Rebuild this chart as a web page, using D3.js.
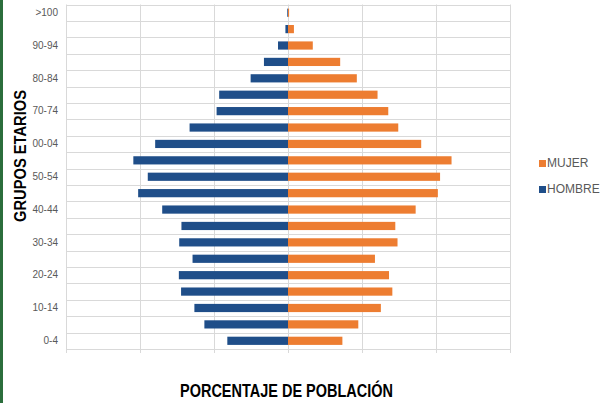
<!DOCTYPE html>
<html>
<head>
<meta charset="utf-8">
<script src="https://cdn.jsdelivr.net/npm/d3@7"></script>
<style>
  body { margin: 0; background: #fff; }
  svg { display: block; font-family: "Liberation Sans", Arial, sans-serif; }
</style>
</head>
<body>
<svg id="chart"></svg>
<script>
// age groups, bottom to top
const groups = ["0-4","5-9","10-14","15-19","20-24","25-29","30-34","35-39","40-44","45-49",
                "50-54","55-59","60-64","65-69","70-74","75-79","80-84","85-89","90-94","95-99",">100"];
// percentages
const hombre = [1.64,2.26,2.53,2.89,2.95,2.58,2.94,2.88,3.40,4.05,
                3.79,4.18,3.59,2.66,1.93,1.86,1.01,0.65,0.27,0.07,0.02];
const mujer  = [1.47,1.90,2.51,2.82,2.73,2.35,2.96,2.90,3.45,4.05,
                4.11,4.42,3.60,2.98,2.71,2.42,1.86,1.41,0.67,0.16,0.03];
// labelled groups and the text shown for them
const tickGroups = ["0-4","10-14","20-24","30-34","40-44","50-54","60-64","70-74","80-84","90-94",">100"];
const tickLabels = ["0-4","10-14","20-24","30-34","40-44","50-54","00-04","70-74","80-84","90-94",">100"];
const xTicks = [-6,-4,-2,0,2,4,6];
const legendItems = ["MUJER","HOMBRE"];

const width = 601, height = 403;
const colors = {HOMBRE: "#1f4e89", MUJER: "#ed7d31"};

const svg = d3.select("#chart").attr("width", width).attr("height", height);

// green strip at left edge
svg.append("rect").attr("x", 0).attr("y", 0).attr("width", 3).attr("height", height).attr("fill", "#2b6e3c");

const x = d3.scaleLinear().domain([-6, 6]).range([66, 510]);
const y = d3.scaleBand()
            .domain(groups.slice().reverse())
            .range([4.5, 349])
            .paddingInner(0.5)
            .paddingOuter(0.25);

const plotTop = y.range()[0], plotBottom = y.range()[1];

// horizontal gridlines at group boundaries
const grid = svg.append("g").attr("stroke", "#d9d9d9").attr("stroke-width", 1);
d3.range(groups.length + 1).forEach(i => {
    const yy = Math.round(plotTop + i * y.step()) + 0.5;
    grid.append("line").attr("x1", x(-6)).attr("x2", x(6)).attr("y1", yy).attr("y2", yy);
});
// vertical gridlines with small ticks below
xTicks.forEach(t => {
    const xx = Math.round(x(t)) + 0.5;
    grid.append("line").attr("x1", xx).attr("x2", xx).attr("y1", plotTop).attr("y2", plotBottom + 4);
});

// bars
const rows = groups.map((g, i) => ({group: g, hombre: hombre[i], mujer: mujer[i]}));

svg.append("g").selectAll("rect")
    .data(rows)
    .enter()
    .append("rect")
    .attr("x", d => x(-d.hombre))
    .attr("y", d => y(d.group))
    .attr("width", d => x(0) - x(-d.hombre))
    .attr("height", y.bandwidth())
    .attr("fill", colors.HOMBRE);

svg.append("g").selectAll("rect")
    .data(rows)
    .enter()
    .append("rect")
    .attr("x", x(0))
    .attr("y", d => y(d.group))
    .attr("width", d => x(d.mujer) - x(0))
    .attr("height", y.bandwidth())
    .attr("fill", colors.MUJER);

// category labels
const yAxis = d3.axisLeft(y)
                .tickValues(tickGroups)
                .tickFormat(g => tickLabels[tickGroups.indexOf(g)])
                .tickSize(0)
                .tickPadding(8);

svg.append("g")
    .attr("transform", `translate(${x(-6)},0)`)
    .call(yAxis)
    .call(g => g.select(".domain").remove())
    .selectAll("text")
    .attr("font-size", "10px")
    .attr("font-family", "'Liberation Sans', Arial, sans-serif")
    .attr("fill", "#595959");

// axis titles
svg.append("text")
    .attr("transform", "translate(26,222) rotate(-90)")
    .attr("font-size", "17px")
    .attr("font-weight", "bold")
    .attr("textLength", 132)
    .attr("lengthAdjust", "spacingAndGlyphs")
    .attr("fill", "#000")
    .text("GRUPOS ETARIOS");

svg.append("text")
    .attr("x", 180)
    .attr("y", 397)
    .attr("font-size", "18px")
    .attr("font-weight", "bold")
    .attr("textLength", 213)
    .attr("lengthAdjust", "spacingAndGlyphs")
    .attr("fill", "#000")
    .text("PORCENTAJE DE POBLACIÓN");

// legend
const legend = svg.append("g").attr("transform", "translate(539,160)");
legendItems.forEach((name, i) => {
    const item = legend.append("g").attr("transform", `translate(0,${i * 26})`);
    item.append("rect").attr("width", 7).attr("height", 7).attr("fill", colors[name]);
    item.append("text")
        .attr("x", 8)
        .attr("y", 7)
        .attr("font-size", "12px")
        .attr("fill", "#595959")
        .text(name);
});
</script>
</body>
</html>
